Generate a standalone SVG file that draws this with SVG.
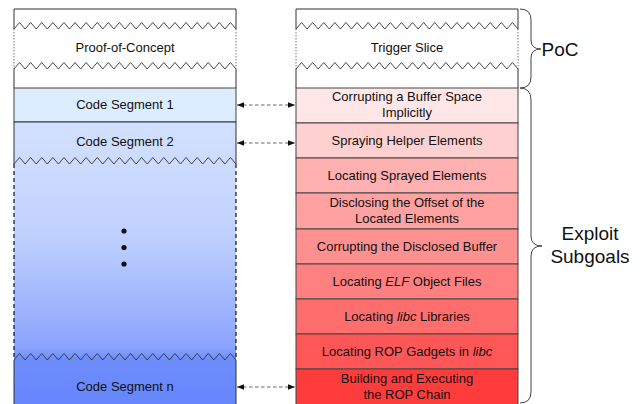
<svg xmlns="http://www.w3.org/2000/svg" width="643" height="404" viewBox="0 0 643 404">
<defs>
<style>
.t{font-family:"Liberation Sans",Arial,sans-serif;font-size:13px;fill:#111;text-anchor:middle}
.big{font-family:"Liberation Sans",Arial,sans-serif;font-size:19px;fill:#111;text-anchor:middle}
.zz{fill:none;stroke:#333;stroke-width:0.9}
.edge{fill:none;stroke:#333;stroke-width:1}
.dot{fill:none;stroke:#555;stroke-width:0.8;stroke-dasharray:1.5,1.5}
.arr{fill:none;stroke:#666;stroke-width:1.1;stroke-dasharray:3.5,2.5;marker-start:url(#ah);marker-end:url(#ah)}
.brace{fill:none;stroke:#444;stroke-width:1}
</style>
<marker id="ah" viewBox="0 0 10 10" refX="10" refY="5" markerWidth="7" markerHeight="7" orient="auto-start-reverse" markerUnits="userSpaceOnUse">
<path d="M0,1 L10,5 L0,9 z" fill="#111"/>
</marker>
<linearGradient id="blue" x1="0" y1="122" x2="0" y2="404" gradientUnits="userSpaceOnUse">
<stop offset="0" stop-color="#d3e1fe"/>
<stop offset="0.4" stop-color="#c0d1fe"/>
<stop offset="0.8" stop-color="#8aa4fd"/>
<stop offset="0.84" stop-color="#6e8dfc"/>
<stop offset="1" stop-color="#6686fc"/>
</linearGradient>
<path id="zig" d="M0,0 l5.55,-6.5 l5.55,6.5 l5.55,-6.5 l5.55,6.5 l5.55,-6.5 l5.55,6.5 l5.55,-6.5 l5.55,6.5 l5.55,-6.5 l5.55,6.5 l5.55,-6.5 l5.55,6.5 l5.55,-6.5 l5.55,6.5 l5.55,-6.5 l5.55,6.5 l5.55,-6.5 l5.55,6.5 l5.55,-6.5 l5.55,6.5 l5.55,-6.5 l5.55,6.5 l5.55,-6.5 l5.55,6.5 l5.55,-6.5 l5.55,6.5 l5.55,-6.5 l5.55,6.5 l5.55,-6.5 l5.55,6.5 l5.55,-6.5 l5.55,6.5 l5.55,-6.5 l5.55,6.5 l5.55,-6.5 l5.55,6.5 l5.55,-6.5 l5.55,6.5 l5.55,-6.5 l5.55,6.5"/>
</defs>
<rect width="643" height="404" fill="#fff"/>

<g id="left-poc">
<rect x="14" y="9" width="222" height="79" fill="#fff"/>
<path class="edge" d="M14,29 V9 H236 V29"/>
<path class="dot" d="M14,29 V69 M236,29 V69"/>
<path class="edge" d="M14,69 V88 M236,69 V88"/>
<use href="#zig" x="14" y="29" class="zz"/>
<use href="#zig" x="14" y="69" class="zz"/>
<text class="t" x="125" y="52">Proof-of-Concept</text>
</g>

<g id="code-segment-1">
<rect x="14" y="88" width="222" height="34" fill="#dbedfe" stroke="#444" stroke-width="1"/>
<text class="t" x="125" y="109">Code Segment 1</text>
</g>

<g id="code-segment-2">
<rect x="14" y="122" width="222" height="282" fill="url(#blue)"/>
<path class="edge" d="M14,122 H236 M14,122 V164 M236,122 V164"/>
<use href="#zig" x="14" y="164" class="zz"/>
<text class="t" x="125" y="146">Code Segment 2</text>
</g>

<g id="ellipsis">
<path fill="none" stroke="#111" stroke-width="1.2" stroke-dasharray="4,3" d="M14,164 V360 M236,164 V360"/>
<circle cx="124" cy="231" r="2.6" fill="#111"/>
<circle cx="124" cy="247.5" r="2.6" fill="#111"/>
<circle cx="124" cy="264" r="2.6" fill="#111"/>
</g>

<g id="code-segment-n">
<path class="edge" d="M14,360 V404 M236,360 V404"/>
<use href="#zig" x="14" y="360" class="zz"/>
<text class="t" x="125" y="391">Code Segment n</text>
</g>

<g id="right-poc">
<rect x="296" y="9" width="222" height="79" fill="#fff"/>
<path class="edge" d="M296,29 V9 H518 V29"/>
<path class="dot" d="M296,29 V69 M518,29 V69"/>
<path class="edge" d="M296,69 V88 M518,69 V88"/>
<use href="#zig" x="296" y="29" class="zz"/>
<use href="#zig" x="296" y="69" class="zz"/>
<text class="t" x="407" y="52">Trigger Slice</text>
</g>

<g id="sg1"><rect x="296" y="88" width="222" height="35" fill="#ffe7e7" stroke="#444"/>
<text class="t" x="407" y="101">Corrupting a Buffer Space</text><text class="t" x="407" y="117">Implicitly</text></g>
<g id="sg2"><rect x="296" y="123" width="222" height="35" fill="#ffd0d0" stroke="#444"/>
<text class="t" x="407" y="145">Spraying Helper Elements</text></g>
<g id="sg3"><rect x="296" y="158" width="222" height="35" fill="#ffb0b0" stroke="#444"/>
<text class="t" x="407" y="180">Locating Sprayed Elements</text></g>
<g id="sg4"><rect x="296" y="193" width="222" height="36" fill="#ffa1a1" stroke="#444"/>
<text class="t" x="407" y="207">Disclosing the Offset of the</text><text class="t" x="407" y="223">Located Elements</text></g>
<g id="sg5"><rect x="296" y="229" width="222" height="35" fill="#ff9090" stroke="#444"/>
<text class="t" x="407" y="251">Corrupting the Disclosed Buffer</text></g>
<g id="sg6"><rect x="296" y="264" width="222" height="35" fill="#ff8080" stroke="#444"/>
<text class="t" x="407" y="286">Locating <tspan font-style="italic">ELF</tspan> Object Files</text></g>
<g id="sg7"><rect x="296" y="299" width="222" height="35" fill="#ff6d6d" stroke="#444"/>
<text class="t" x="407" y="321">Locating <tspan font-style="italic">libc</tspan> Libraries</text></g>
<g id="sg8"><rect x="296" y="334" width="222" height="35" fill="#ff5757" stroke="#444"/>
<text class="t" x="407" y="356">Locating ROP Gadgets in <tspan font-style="italic">libc</tspan></text></g>
<g id="sg9"><rect x="296" y="369" width="222" height="36" fill="#ff3c3c" stroke="#444"/>
<text class="t" x="407" y="383">Building and Executing</text><text class="t" x="407" y="399">the ROP Chain</text></g>

<g id="connectors">
<line class="arr" x1="237" y1="105" x2="295" y2="105"/>
<line class="arr" x1="237" y1="143" x2="295" y2="143"/>
<line class="arr" x1="237" y1="387" x2="295" y2="387"/>
</g>

<g id="brace-poc">
<path class="brace" d="M520,9 Q531,9 531,20 V40 Q531,49 541,49 Q531,49 531,58 V77 Q531,88 520,88"/>
<text class="big" x="560" y="56">PoC</text>
</g>
<g id="brace-exploit">
<path class="brace" d="M520,88 Q531,88 531,100 V236 Q531,246 542,246 Q531,246 531,256 V392 Q531,403 520,403"/>
<text class="big" x="590" y="240">Exploit</text>
<text class="big" x="590" y="263">Subgoals</text>
</g>
</svg>
